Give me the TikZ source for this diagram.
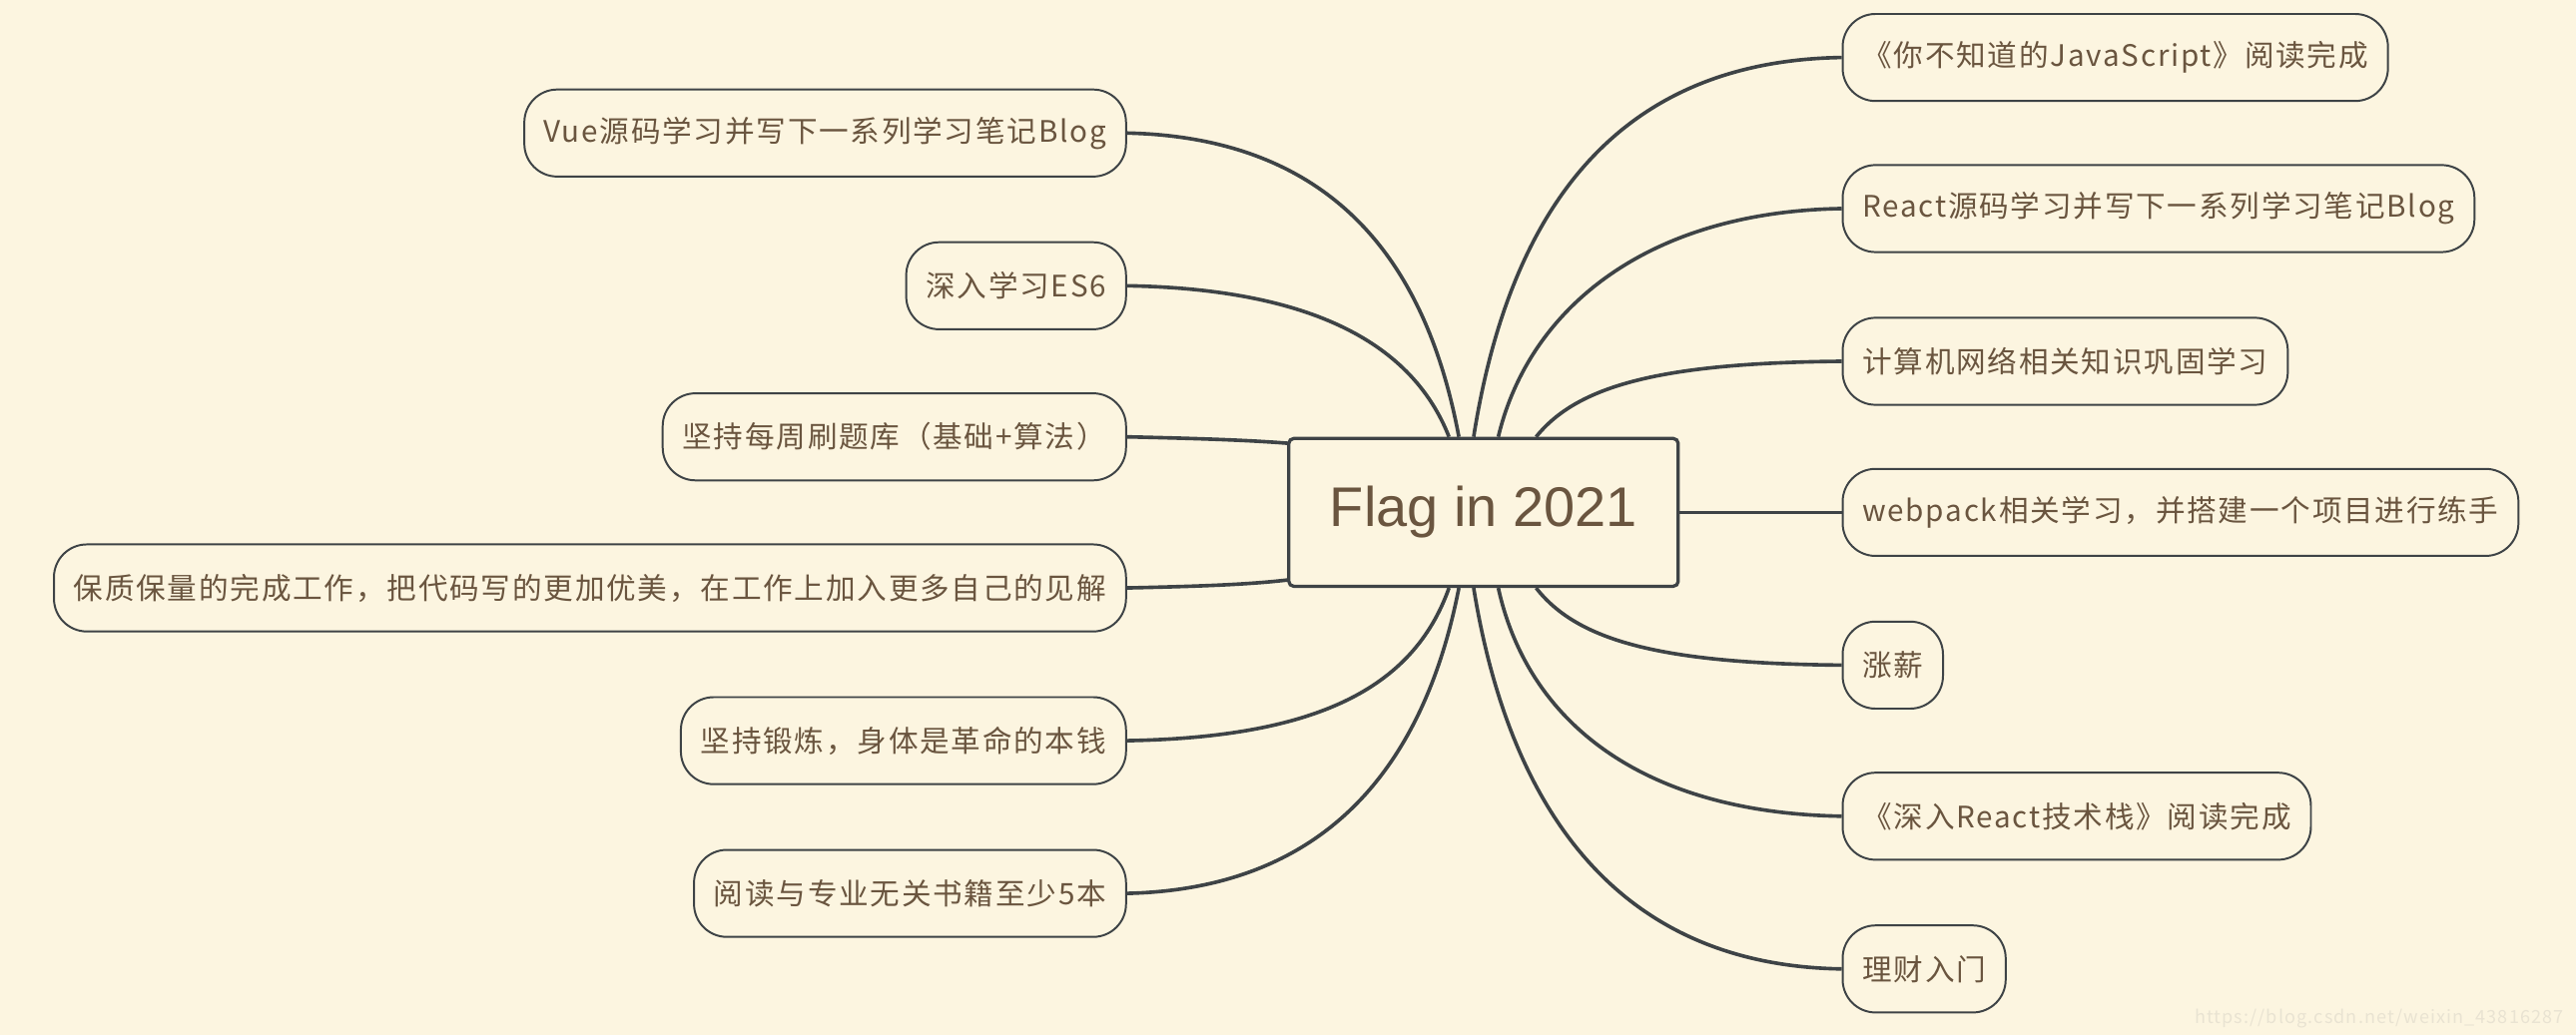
\documentclass[tikz,border=0pt]{standalone}
\usepackage{fontspec}
\setmainfont[LetterSpace=6]{Noto Sans CJK SC}
\newfontfamily\centerfont{Liberation Sans}
\begin{document}
\begin{tikzpicture}[x=1pt,y=-1pt,
  leaf/.style={draw=linec,line width=1.2pt,rounded corners=20pt,fill=bg,text=txt,font=\fontsize{18}{20}\selectfont,minimum height=53pt,inner xsep=12pt,anchor=#1},
  conn/.style={draw=linec,line width=2.2pt}]
\definecolor{bg}{HTML}{FCF5E0}
\definecolor{linec}{HTML}{3E4346}
\definecolor{txt}{HTML}{6A553F}
\fill[bg] (0,0) rectangle (1568,630);
\useasboundingbox (0,0) rectangle (1568,630);
% left
\node[leaf=east] (l1) at (686,81) {Vue源码学习并写下一系列学习笔记Blog};
\node[leaf=east] (l2) at (686,174) {深入学习ES6};
\node[leaf=east] (l3) at (686,266) {坚持每周刷题库（基础+算法）};
\node[leaf=east] (l4) at (686,358) {保质保量的完成工作，把代码写的更加优美，在工作上加入更多自己的见解};
\node[leaf=east] (l5) at (686,451) {坚持锻炼，身体是革命的本钱};
\node[leaf=east] (l6) at (686,544) {阅读与专业无关书籍至少5本};
% right
\node[leaf=west] (r1) at (1121,35) {《你不知道的JavaScript》阅读完成};
\node[leaf=west] (r2) at (1121,127) {React源码学习并写下一系列学习笔记Blog};
\node[leaf=west] (r3) at (1121,220) {计算机网络相关知识巩固学习};
\node[leaf=west] (r4) at (1121,312) {webpack相关学习，并搭建一个项目进行练手};
\node[leaf=west] (r5) at (1121,405) {涨薪};
\node[leaf=west] (r6) at (1121,497) {《深入React技术栈》阅读完成};
\node[leaf=west] (r7) at (1121,590) {理财入门};
% connectors
\draw[conn] (l1.east) .. controls (820,84) and (870,170) .. (888,266);
\draw[conn] (l2.east) .. controls (800,176) and (860,210) .. (882,266);
\draw[conn] (l3.east) .. controls (730,267) and (760,268) .. (785,270);
\draw[conn] (l4.east) .. controls (730,357) and (760,356) .. (785,353);
\draw[conn] (l5.east) .. controls (800,449) and (860,420) .. (882,358);
\draw[conn] (l6.east) .. controls (820,541) and (870,450) .. (888,358);
\draw[conn] (r1.west) .. controls (990,37) and (920,120) .. (897,266);
\draw[conn] (r2.west) .. controls (1000,129) and (930,190) .. (912,266);
\draw[conn] (r3.west) .. controls (1010,221) and (960,235) .. (935,266);
\draw[conn] (r5.west) .. controls (1010,404) and (960,390) .. (935,358);
\draw[conn] (r6.west) .. controls (1000,495) and (930,440) .. (912,358);
\draw[conn] (r7.west) .. controls (990,588) and (920,500) .. (897,358);
% center
\node[draw=linec,line width=2pt,rounded corners=3pt,fill=bg,text=txt,minimum width=237pt,minimum height=90pt,font=\centerfont\fontsize{34}{40}\selectfont] (c) at (903,312) {Flag in 2021};
\draw[conn] (c.east) -- (r4.west);
\node[text=bg!85!gray,font=\fontsize{11}{12}\selectfont,anchor=east] (wm) at (1564,620) {https://blog.csdn.net/weixin\_43816287};
\end{tikzpicture}
\end{document}
